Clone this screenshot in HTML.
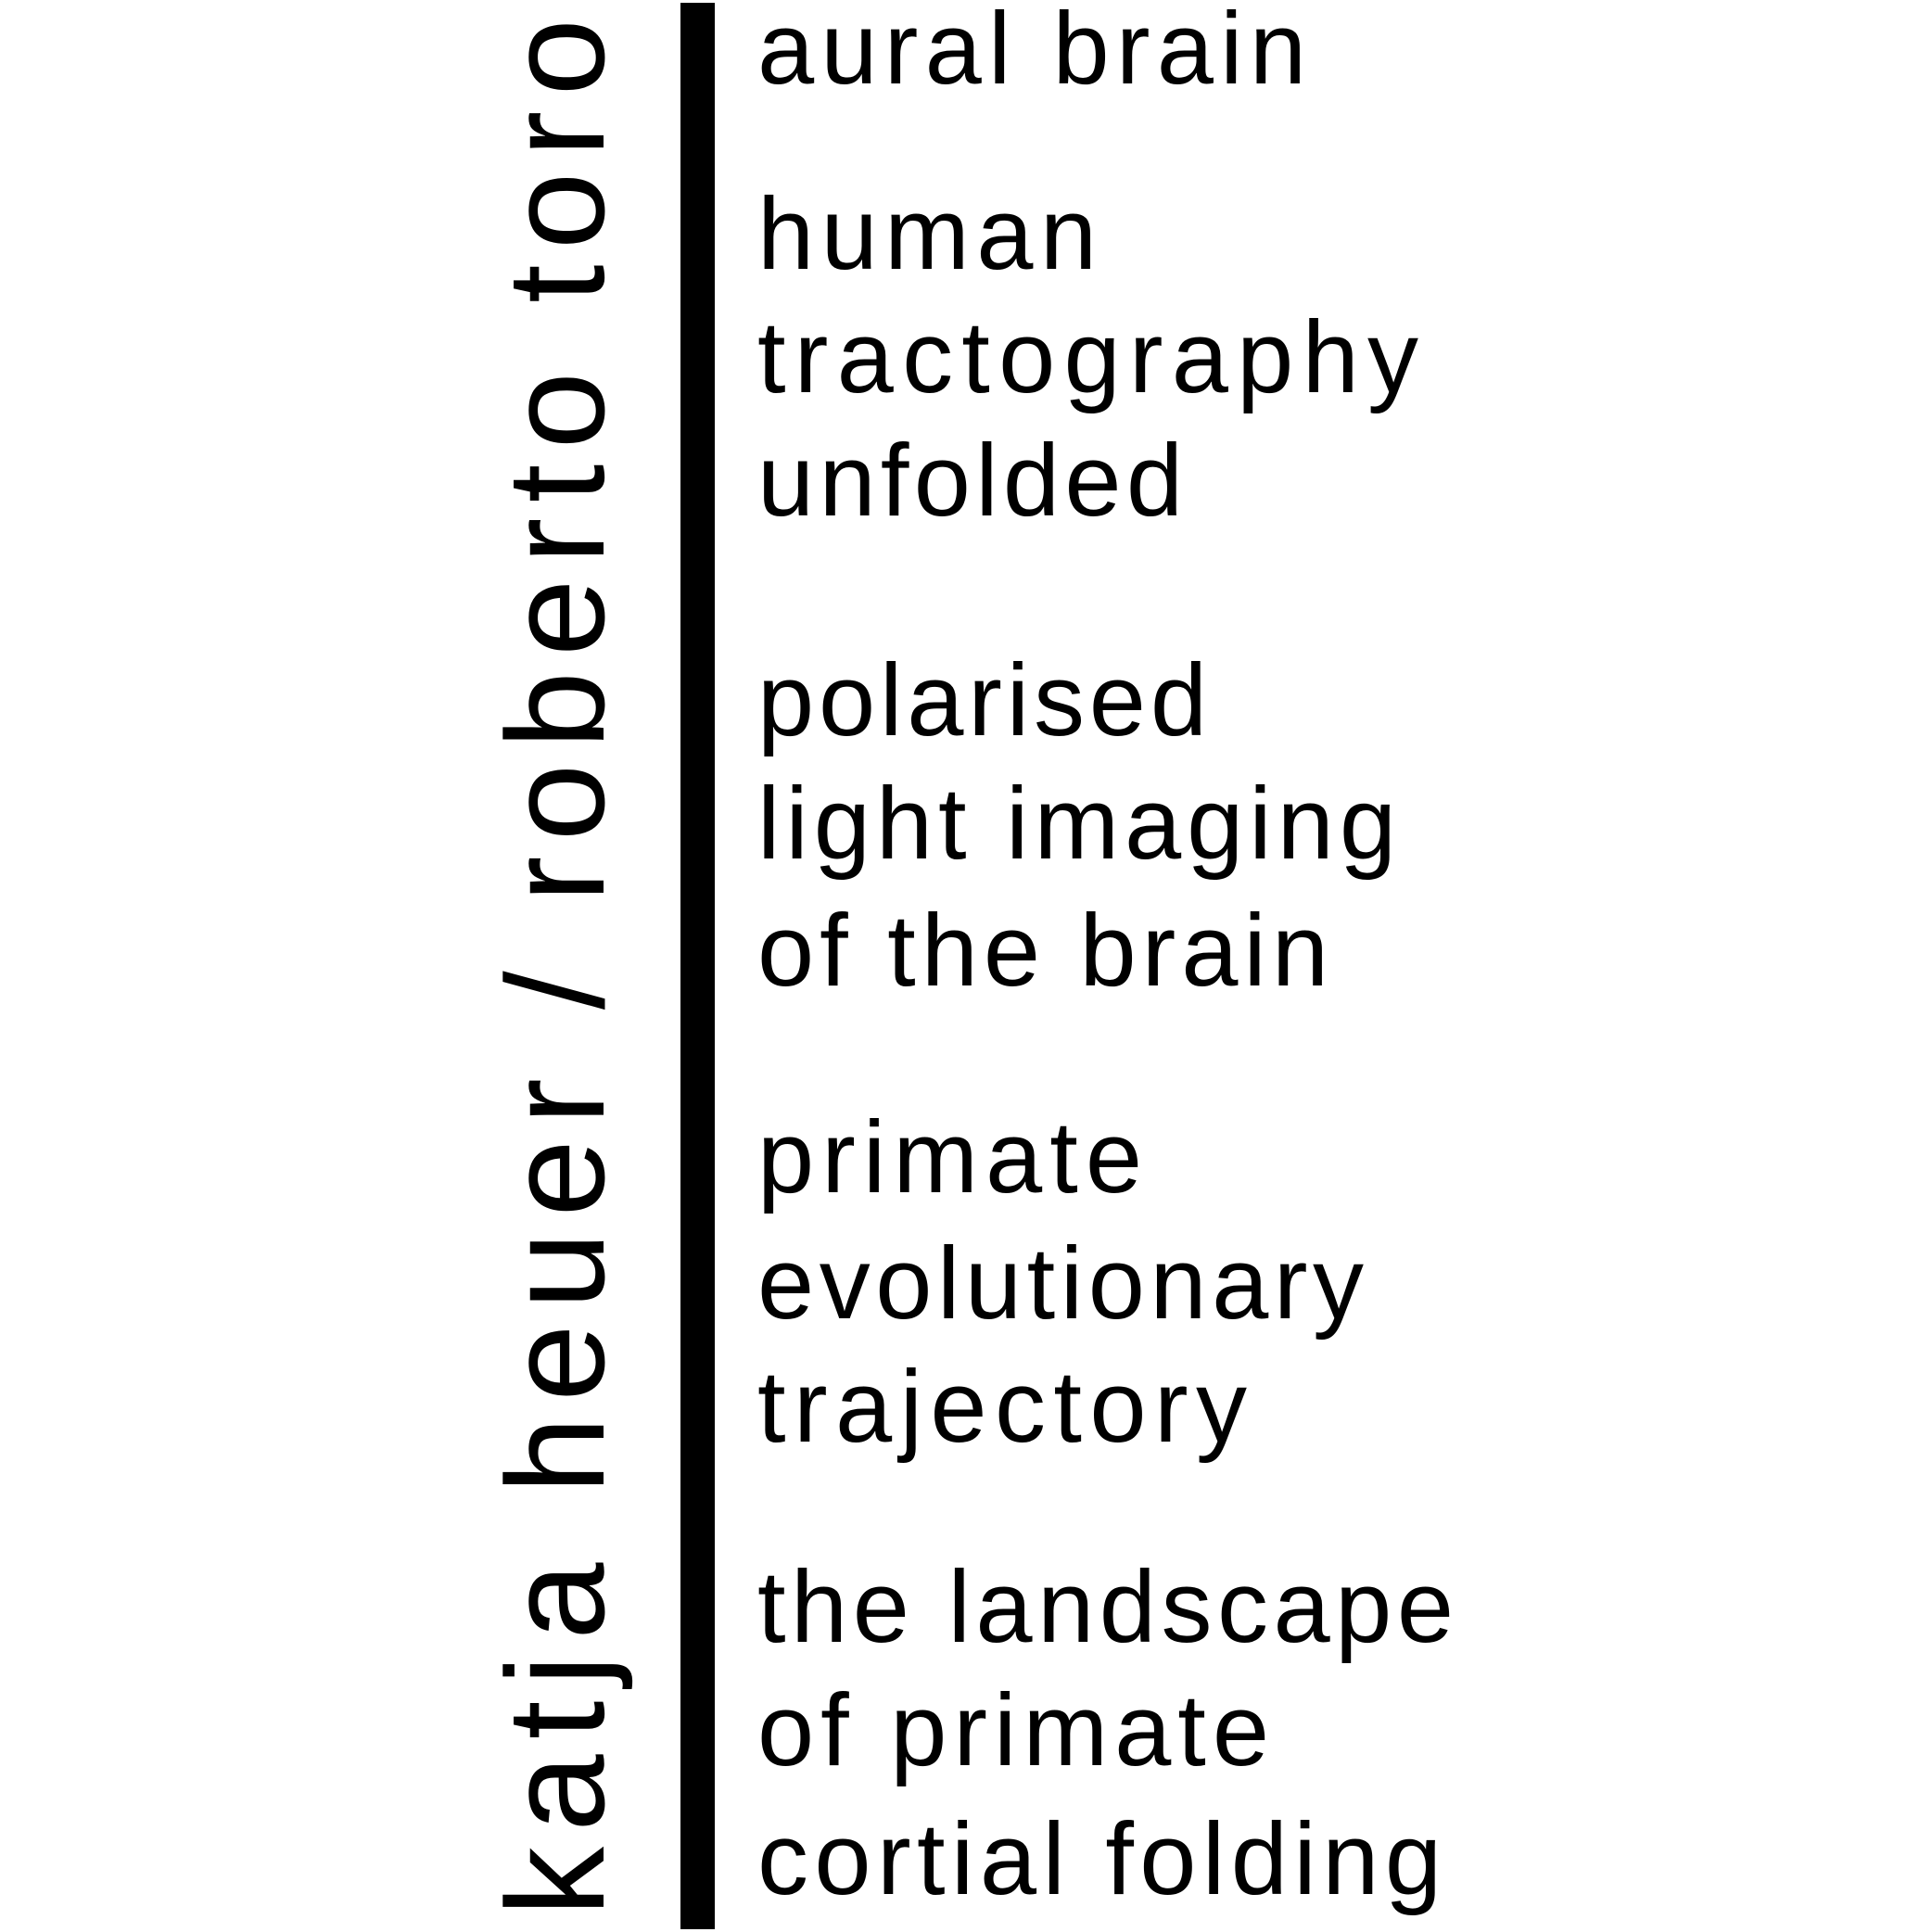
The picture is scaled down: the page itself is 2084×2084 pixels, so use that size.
<!DOCTYPE html>
<html>
<head>
<meta charset="utf-8">
<style>
html,body{margin:0;padding:0;background:#fff;}
svg{display:block;}
text{font-family:"Liberation Sans",sans-serif;fill:#000;}
</style>
</head>
<body>
<svg width="2084" height="2084" viewBox="0 0 2084 2084">
  <rect x="0" y="0" width="2084" height="2084" fill="#fff"/>
  <text font-size="150" transform="translate(651,2067) rotate(-90)" textLength="2047" lengthAdjust="spacing">katja heuer / roberto toro</text>
  <rect x="734" y="3" width="37" height="2078" fill="#000"/>
  <g font-size="110">
    <text x="817" y="90" textLength="592" lengthAdjust="spacing">aural brain</text>
    <text x="817" y="290" textLength="366" lengthAdjust="spacing">human</text>
    <text x="817" y="423" textLength="713" lengthAdjust="spacing">tractography</text>
    <text x="817" y="556" textLength="459" lengthAdjust="spacing">unfolded</text>
    <text x="817" y="793" textLength="485" lengthAdjust="spacing">polarised</text>
    <text x="817" y="926" textLength="689" lengthAdjust="spacing">light imaging</text>
    <text x="817" y="1063" textLength="616" lengthAdjust="spacing">of the brain</text>
    <text x="817" y="1286" textLength="415" lengthAdjust="spacing">primate</text>
    <text x="817" y="1422" textLength="654" lengthAdjust="spacing">evolutionary</text>
    <text x="817" y="1555" textLength="528" lengthAdjust="spacing">trajectory</text>
    <text x="817" y="1771" textLength="751" lengthAdjust="spacing">the landscape</text>
    <text x="817" y="1904" textLength="552" lengthAdjust="spacing">of primate</text>
    <text x="817" y="2043" textLength="738" lengthAdjust="spacing">cortial folding</text>
  </g>
</svg>
</body>
</html>
